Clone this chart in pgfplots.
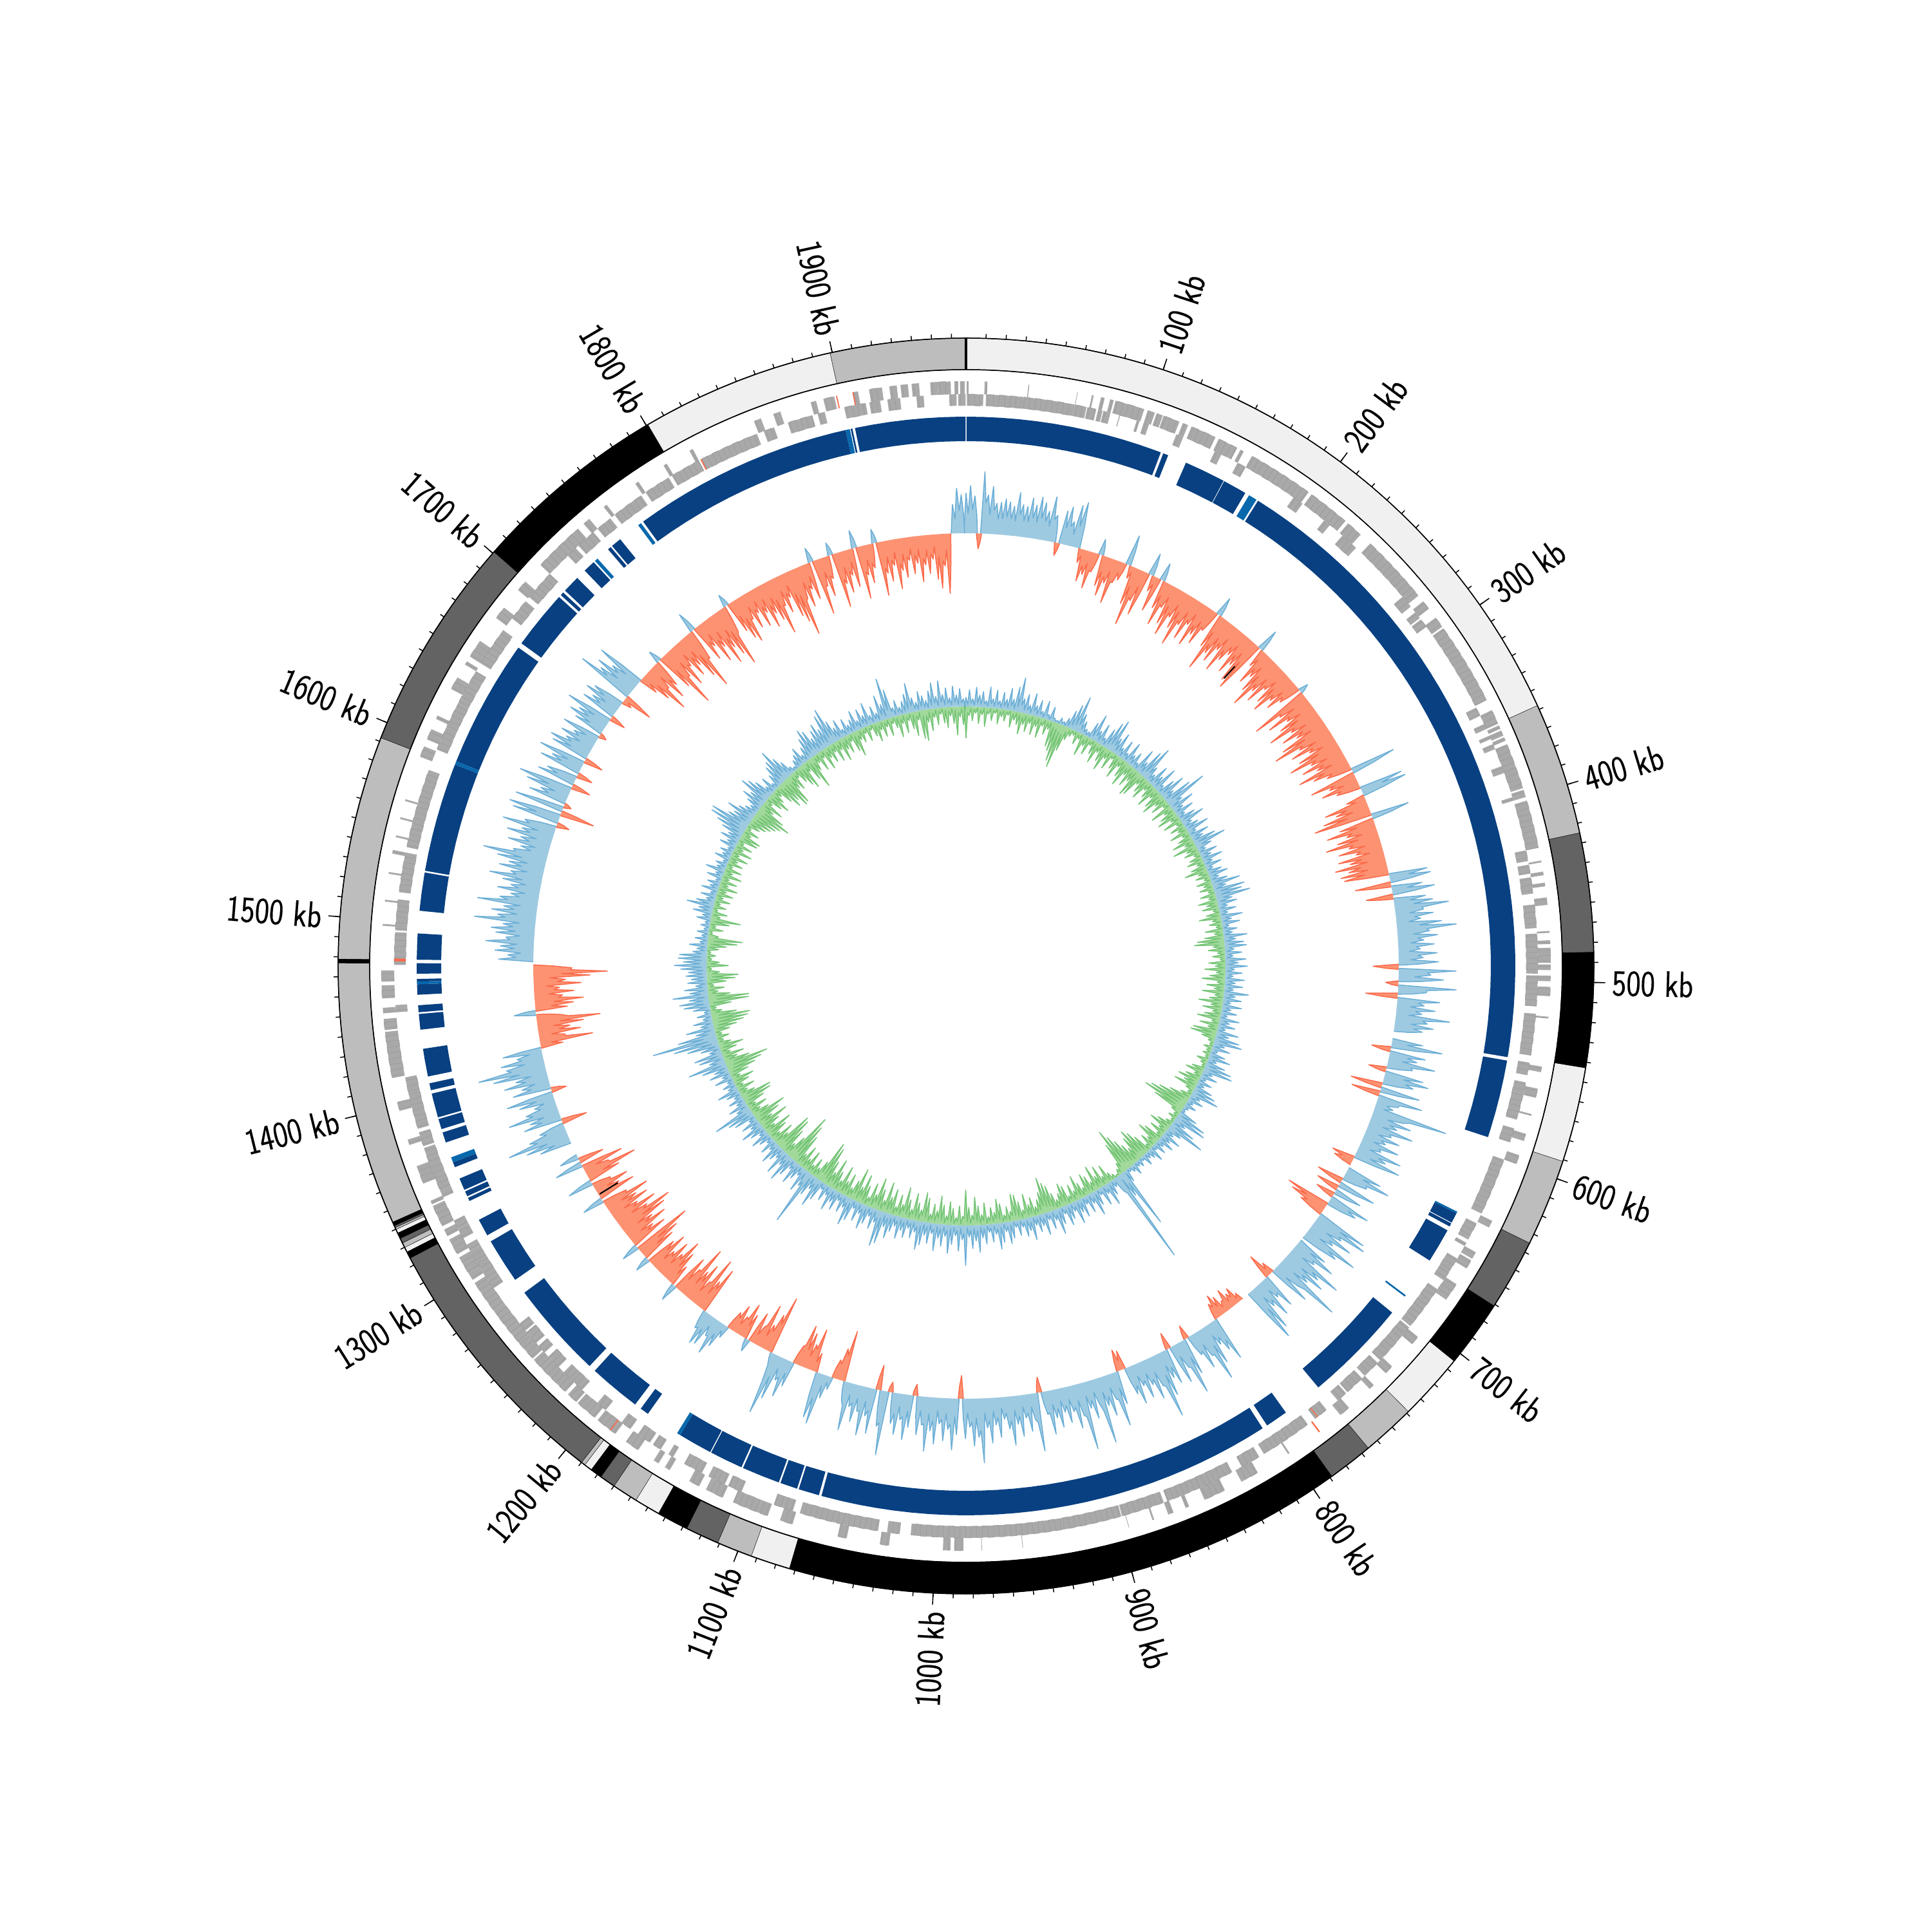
\documentclass[border=0pt]{standalone}
\usepackage{fontspec}
\setsansfont[FakeBold=0.35]{Latin Modern Sans}
\usepackage{graphicx}
\usepackage{pgfplots}
\pgfplotsset{compat=1.18}
\definecolor{ringL}{HTML}{F0F0F0}
\definecolor{ringM}{HTML}{BDBDBD}
\definecolor{ringD}{HTML}{636363}
\definecolor{ringB}{HTML}{084081}
\definecolor{ringC}{HTML}{0868AC}
\definecolor{geneG}{HTML}{A9A9A9}
\definecolor{geneD}{HTML}{9B9B9B}
\definecolor{geneR}{HTML}{FB6A4A}
\definecolor{posF}{HTML}{9ECAE1}
\definecolor{posD}{HTML}{6BAED6}
\definecolor{negF}{HTML}{FC9272}
\definecolor{negD}{HTML}{FB6A4A}
\definecolor{grnF}{HTML}{A1D99B}
\definecolor{grnD}{HTML}{74C476}
\def\kbdeg{0.183}
\def\sFix{\edef\sTmp{\noexpand\addplot[\sOpts,data cs=polar,forget plot] coordinates {\sF(\sAng,\sRb)(\sAng,\sRa)\sB};}\sTmp}
% arc segment: colour, inner r, outer r, start kb, end kb, extra options
\newcommand\seg[6]{%
  \def\sF{}\def\sB{}\def\sRa{#2}\def\sRb{#3}\def\sOpts{fill=#1,#6}%
  \pgfmathsetmacro\sCur{#4}%
  \loop\ifdim\sCur pt<#5pt
    \pgfmathsetmacro\sAng{90-\sCur*\kbdeg}%
    \edef\sF{\sF(\sAng,#3)}\edef\sB{(\sAng,#2)\sB}%
    \pgfmathsetmacro\sCur{\sCur+10}%
  \repeat
  \pgfmathsetmacro\sAng{90-#5*\kbdeg}%
  \sFix
}
% fine lines that part the genes of a block
\newcommand\comb[4]{% inner r, outer r, start kb, end kb
  \def\sF{}\def\cS{0}%
  \pgfmathsetmacro\sCur{#3+1.1}%
  \loop\ifdim\sCur pt<#4pt
    \pgfmathsetmacro\sAng{90-\sCur*\kbdeg}%
    \ifnum\cS=0 \edef\sF{\sF(\sAng,#1)(\sAng,#2)}\def\cS{1}\else\edef\sF{\sF(\sAng,#2)(\sAng,#1)}\def\cS{0}\fi
    \pgfmathsetmacro\sCur{\sCur+3.1}%
  \repeat
  \ifx\sF\empty\else
  \edef\sTmp{\noexpand\addplot[draw=geneD,line width=0.2pt,data cs=polar,forget plot] coordinates {\sF};}\sTmp
  \fi
}
\def\splitp#1/#2\end{\def\pa{#1}\def\pb{#2}}
\newcommand\seglist[4]{% colour, r1, r2, list
  \pgfplotsforeachungrouped \pp in {#4}{%
    \expandafter\splitp\pp\end
    \seg{#1}{#2}{#3}{\pa}{\pb}{draw=none}%
  }%
}
\newcommand\genelist[3]{% r1, r2, list
  \pgfplotsforeachungrouped \pp in {#3}{%
    \expandafter\splitp\pp\end
    \seg{geneG}{#1}{#2}{\pa}{\pb}{draw=none}%
    \comb{#1}{#2}{\pa}{\pb}%
  }%
}
% signed histogram
\def\runsign{0}\def\runpts{}\def\runback{}\def\backn{0}
\newcommand\flushrun{%
  \ifnum\runsign=0 \else
    \ifnum\runsign>0 \def\hhF{\posFill}\def\hhD{\posDraw}\else\def\hhF{\negFill}\def\hhD{\negDraw}\fi
    \pgfmathsetmacro\hhEnd{\lastang-\hstep*\kbdeg*0.75}%
    \edef\hhTmp{\noexpand\addplot[fill=\hhF,draw=none,data cs=polar,forget plot] coordinates {\runpts(\hhEnd,\hbase)\runback};%
      \noexpand\addplot[draw=\hhD,line width=0.42pt,line join=round,data cs=polar,forget plot] coordinates {\runpts(\hhEnd,\hbase)};}%
    \hhTmp
  \fi
  \def\runsign{0}\def\runpts{}\def\runback{}\def\backn{0}%
}
\newcommand\hist[3]{% start kb, step kb, values
  \def\hstep{#2}%
  \pgfmathsetmacro\hhCur{#1}%
  \pgfplotsforeachungrouped \hv in {#3}{%
    \ifdim\hv pt>0pt \def\hsg{1}\else\ifdim\hv pt<0pt \def\hsg{-1}\else\def\hsg{0}\fi\fi
    \ifnum\hsg=\runsign\relax\else\flushrun\fi
    \ifnum\hsg=0 \else
      \pgfmathsetmacro\hhAng{90-\hhCur*\kbdeg}%
      \pgfmathsetmacro\hhR{\hbase+\hv}%
      \pgfmathsetmacro\hhV{\hbase+\hv*\hvf}%
      \pgfmathsetmacro\hhB{\hhAng-\hstep*\kbdeg*0.5}%
      \ifnum\runsign=0
        \pgfmathsetmacro\hhPrev{\hhAng+\hstep*\kbdeg*0.5}%
        \edef\runpts{(\hhPrev,\hbase)}\edef\runback{(\hhPrev,\hbase)}%
        \edef\runsign{\hsg}%
      \fi
      \edef\runpts{\runpts(\hhAng,\hhR)(\hhB,\hhV)}%
      \ifnum\backn=0 \edef\runback{(\hhAng,\hbase)\runback}\def\backn{3}\else
        \ifnum\backn=3 \def\backn{2}\else\ifnum\backn=2 \def\backn{1}\else\def\backn{0}\fi\fi\fi
      \edef\lastang{\hhAng}%
    \fi
    \pgfmathsetmacro\hhCur{\hhCur+#2}%
  }%
}
\begin{document}
\begin{tikzpicture}
\useasboundingbox (-15,-15) rectangle (15,15);
\begin{axis}[at={(0,0)},anchor=center,width=30cm,height=30cm,scale only axis,
  xmin=-1500,xmax=1500,ymin=-1500,ymax=1500,hide axis,no marks,clip=false]
% ---- karyotype ring
\def\RS#1#2#3{\seg{#3}{926}{975}{#1}{#2}{draw=black,line width=0.35pt}}
\RS{0}{358}{ringL}\RS{358}{425}{ringM}\RS{425}{485}{ringD}\RS{485}{543}{black}
\RS{543}{591}{ringL}\RS{591}{635}{ringM}\RS{635}{671}{ringD}\RS{671}{705}{black}
\RS{705}{739}{ringL}\RS{739}{766}{ringM}\RS{766}{789}{ringD}\RS{789}{1073}{black}
\RS{1073}{1093}{ringL}\RS{1093}{1111}{ringM}\RS{1111}{1128}{ringD}\RS{1128}{1144}{black}
\RS{1144}{1157}{ringL}\RS{1157}{1170}{ringM}\RS{1170}{1178}{ringD}\RS{1178}{1184}{black}
\RS{1184}{1188}{ringL}\RS{1188}{1190}{ringM}\RS{1190}{1324}{ringD}\RS{1324}{1327.5}{black}
\RS{1327.5}{1330}{ringL}\RS{1330}{1332.5}{ringM}\RS{1332.5}{1335}{ringD}\RS{1335}{1338}{black}
\RS{1338}{1340}{ringL}\RS{1340}{1341}{ringM}\RS{1341}{1342}{ringD}\RS{1342}{1344}{black}
\RS{1344}{1477}{ringM}\RS{1477}{1479}{black}\RS{1479}{1592}{ringM}\RS{1592}{1701}{ringD}
\RS{1701}{1801}{black}\RS{1801}{1899}{ringL}\RS{1899}{1967}{ringM}
\addplot[black,line width=0.9pt,data cs=polar,forget plot] coordinates {(90,926)(90,975)};
% ---- genes, outer strand
\genelist{888}{908}{0.4/1.4,10/11.5,33.5/34,60/60.3,68/69,73/75,78/80,81/97,99/103,104/107.5,108/117,119/122,124/138,140/151,153/155,160/196,198/221,223/232,239/277,281/286,292/298,299/344,350/358,359/361,362/365,366/368,370/395,396/400,402/428,435/436,441/443,447/449,455/459,473/474,478/480,482/490,491/494,497/500,503/508,519/520,546/549,558/563,572/573,583/587,595/600,633/637,652/656,657/662,672/682,707/712,728/733,742/745,760/766,800/801,820/830,840/852,861/863,870/873,881/882,895/895.3,953/953.3,975/975.3,985/990,992/996,1025/1030,1048/1053,1078/1085,1092/1098,1098/1112,1118/1128,1132/1138,1150/1153,1157/1160,1170/1178,1185/1197,1199/1211,1212/1218,1220/1228,1226/1238,1238/1244,1245/1256,1256/1262,1262/1278,1278/1290,1290/1296,1298/1302,1302/1308,1308/1312,1314/1323,1325/1329,1331/1343,1344/1346,1356/1366,1378/1381,1397/1402,1415/1440,1441/1447,1450/1453,1458/1465,1467/1473,1497/1498,1510/1511,1525/1526,1536/1538,1545/1546,1555/1556,1565/1566,1590/1596,1600/1606,1612/1614,1630/1637,1645/1647,1650/1660,1675/1682,1694/1700,1712/1726,1725/1740,1744/1748,1758/1760,1779/1781,1797/1799,1813/1815,1851/1855,1862/1866,1883/1886,1890/1896,1906/1909,1915/1922,1926/1930,1932/1936,1938/1942,1948/1952,1952/1959,1961/1963,1964/1966.6}
% ---- genes, inner strand
\genelist{870}{888}{0.5/9.5,11/31,31/60,60/66.5,67/72,73/75.5,76/80,85/85.5,95/96.5,99/102,118/122,141/145,155/160,191/197,212/216,225/235,272/279,283/287,288/293,345/350,355/358,362/364,367/370,380/384,398/400,428/434,436/441,443/452,458/471,474/496,497/514,518/541,545/552,556/577,582/590,600/632,638/648,650/652,660/668,668/674,680/705,706/716,716/730,732/742,744/755,756/762,770/778,783/812,815/826,832/871,873/897,897.5/930,930/1014,1020/1027,1032/1076,1080/1086,1086/1091,1110/1118,1120/1130,1134/1145,1152/1155,1160/1165,1167/1175,1180/1186,1197/1203,1214/1222,1222/1228,1232/1240,1243/1248,1250/1258,1259/1264,1288/1294,1294/1305,1305/1312,1312/1316,1320/1326,1326/1331,1345/1349,1349/1366,1365/1374,1375/1383,1385/1405,1405/1414,1450/1454,1476/1494,1495/1512,1516/1538,1541/1585,1597/1610,1610/1625,1625/1645,1650/1672,1680/1692,1695/1712,1726/1732,1734/1745,1748/1757,1760/1778,1781/1796,1798/1815,1816/1850,1854/1860,1868/1882,1885/1889,1900/1912,1914/1920,1924/1931,1940/1944,1958/1962,1963/1967}
\seglist{geneR}{888}{908}{780/780.8,1188/1188.6,1897/1897.6,1906/1906.6}
\seglist{geneR}{870}{888}{1816/1816.6,1478/1479.5,776/776.5}
% ---- contig ring
\seglist{ringB}{815}{853}{0.3/113.5,115/118,129/152.8,153.2/167,175.5/544,546/591,638/644,644.5/646.5,649/669,705.6/765.6,789/802,805/1067,1068.5/1080.5,1081.5/1091.5,1092.5/1114.5,1115.5/1134.7,1135.3/1155,1177/1182,1186/1216,1220/1276,1285/1311,1315/1325,1337/1339,1340/1343,1344/1351,1358/1361,1373/1379,1381/1387,1388/1402,1404/1408,1412/1428,1439/1448,1449/1453,1459/1465,1466.5/1468,1471/1477,1479/1494,1507/1529,1530/1593,1595/1669,1672/1706,1707.5/1709.5,1711/1721,1727/1734,1745/1747,1748/1754,1770.5/1898,1901/1902,1903.5/1967}
\seglist{ringC}{815}{853}{169.5/174.4,637/638,693/694,1155/1157,1361/1364,1465/1466.5,1593/1595,1735/1737,1767/1769,1898/1900.5}
% ---- first histogram track
\def\hbase{672}\def\hvf{0.5}\def\posFill{posF}\def\posDraw{posD}\def\negFill{negF}\def\negDraw{negD}
\hist{0}{3}{62,74,58,-24,96,60,74,48,50,56,52,46,68,50,48,62,52,66,58,46,70,42,-20,52,60,38,66,72}
\hist{84}{3}{-22,-50,-38,-58,-30,25,-48,-62,-40,-70,-35,-28,48,-20,-60,-92,-50,-70,35,-25,-55,28}
\hist{150}{3}{-45,-70,-38,-62,-78,-45,-60,-85,-48,-68,-40,-72,-50,-62,-35,30,-55,-92,-60,-70,-45,-78,-55,-40,-68,-50,-75,-85,35,-30,-58,-42,-65,-88,-55,-70,-40,-60,-72,-45,-55,-35,15,-92,-50,-75,-45,-62,-85,-50,-70,-48,-78,-95,-55,-72,-44,-66,-85,-52,-70,-48,-82,-60,-40,72,-73,-45,-60,-38,68,72,-30,-68,-52,-75,-92,60,-55,-78,-48,-65,-85,-50,-68,-42,-72,-55,-80,-60,-74,-70}
\hist{426}{3}{60,64,-56,48,66,-42,50,60,84,44,58,38,70,92,50,62,40,56,34,60,38,62,-40,89,50,70,-20,90,44,-50,66,42,60,40,84,50,60,44,0,0,48,80,-30,56,44,74,40,-28,60,70,48,-50,62,-45,70,34,28,117}
\hist{600}{3}{50,64,44,72,40,56,36,60,34,70,48,74,-36,-30,0,56,74,40,-42,60,-36,44,-30,66,48,-70,-60,-40,82,88,50,72,44,90,60,0,50,70,40,92,60,74,50,110,44,66,-20,-40,56,34,62,40,76,90,0,0,-14,-28,-22,-34,-18,-30,-37,-26}
\hist{792}{3}{70,50,36,64,88,44,60,34,-22,58,87,40,62,-26,56,44,70,102,48,66,40,58,36,62,44,-30,-34,52,85,40,64,46,103,38,60,42,105,50,68,40,56,38,60,44,68,36,-24,91,40,58,36,64,44,76,50,34,62,42,70,46,100,60,74,44,62,-36,56,80,48,66,40,72,52,84,44,60,-18,50,70,40,64,48,-16,100,56,-39,70,44,76,40,58,36,75,30,-80}
\hist{1077}{3}{-50,-30,20,36,80,72,-30,-67,-40,-56,-66,-30,40,60,36,70,97,20,-92,-60,-40,-70,-30,-50,20,-40,-55,-30,-45,-30,20,40,57,30,50,53,30}
\hist{1188}{3}{-75,-50,-85,-40,-66,-50,-87,-45,-60,28,-34,-55,-72,-44,-60,-38,-64,-48,24,-56,-70,-93,28,-60,-42,-70,-50,-78,-91,-54,-72,-44,-66,-50,-74,-40,34,-60,-38,-56,-30,40,-52,-83,-40,-66,44,-40,30,0,0,0,0,0}
\hist{1345}{3}{50,70,97,60,40,-40,60,48,80,50,34,56,74,-24,60,44,70,50,84,106,60,67,40,61,-35}
\hist{1420}{3}{-83,-40,-66,-50,-72,-99,-40,34,-50,-60,-76,-44,-62,-40,-74,-50,-88,-115,-60,0}
\hist{1480}{3}{54,40,60,52,75,44,60,68,50,95,60,70,52,94,60,44,66,46,60,82,50,70,56,76,100,54,44,66,48,72,50,83,50,-20,74,82,-54,77,-12,60,44,70,85,-30,60,48,-25,66,50,74,-30,60,67,44,56,38,60,-12,48,62,50,74,-25,56,44,60,50,-15,-47,91,60,70,48,77}
\hist{1702}{3}{-30,-50,-77,-40,-64,-45,20,-60,-97,-50,-70,-40,-62,-48,-74,-97,-50,32,-60,-40,-72,-50,-84,-60,-76,-97,-44,20,-50,-66,-75,-40,-58,-36,-62,-42,-70,-50,-64,-89,-46,-60,-38,-72,-84,-107,-50,-66,-40,-58,23,-87,-44,-62,-36,20,-86,-50,-66,-40,-60,28,-82,-46,-60,-38,22,-84,-50,-64,-40,-78,-50,-62,-36,-58,-42,-72,-46,-60,-38,-70,-84,-50,-93}
\hist{1958}{3}{45,70,60}
\flushrun
\addplot[black,line width=0.6pt,data cs=polar,forget plot] coordinates {(48.1,600)(48.1,625)};
\addplot[black,line width=0.6pt,data cs=polar,forget plot] coordinates {(-148.1,637)(-148.1,670)};
% ---- second histogram track: green inward
\def\hbase{403}\def\hvf{0.2}\def\negFill{grnF}\def\negDraw{grnD}
\hist{0}{4}{-49,-14,-22,-10,-26,-12,-30,-10,-20,-8,-24,-12,-18,-8,-26,-14,-20,-34,-18,-28,-14,-30,-16,-32,-12,-24,-14,-40,-46,-60,-69,-40,-20,-12,-8,-20,-10,-34,-16,-28,-10,-22,-34,-14,-26,-38,-16,-30,-10,-24}
\hist{200}{4}{-36,-14,-28,-40,-18,-34,-22,-44,-40,-16,-26,-34,-14,-24,-36,-16,-30,-38,-18,-28,-10,-36,-16,-26,-34,-14,-30,-10,-24,-14,-30,-12,-22,-34,-16,-38,-18,-24,-10,-20,-26,-12,-24,-36,-16,-22,-10,-24,-14,-22}
\hist{400}{4}{-10,-24,-12,-30,-18,-26,-10,-22,-34,-14,-20,-10,-28,-14,-30,-42,-47,-18,-26,-12,-20,-8,-26,-16,-32,-14,-24,-36,-12,-28,-16,-34,-14,-22,-38,-18,-30,-14,-26,-36,-12,-30,-16,-38,-41,-22,-10,-6,-14,-8}
\hist{600}{4}{-12,-6,-18,-10,-6,-20,-28,-12,-24,-34,-22,-36,-14,-8,-18,-34,-50,-62,-70,-50,-16,-8,-14,-6,-12,-24,-34,-14,-26,-10,-30,-38,-16,-24,-10,-30,-42,-50,-40,-24,-34,-46,-58,-72,-50,-18,-10,-4,-8,-14}
\hist{800}{4}{-30,-14,-34,-20,-40,-16,-28,-34,-14,-24,-38,-16,-28,-12,-30,-36,-22,-14,-26,-40,-46,-56,-34,-24,-14,-30,-20,-38,-14,-28,-40,-42,-16,-24,-12,-30,-38,-18,-26,-12,-34,-16,-30,-44,-16,-28,-55,-14,-30,-12}
\hist{1000}{4}{-26,-36,-14,-30,-44,-20,-30,-14,-38,-46,-18,-28,-42,-16,-30,-48,-20,-34,-14,-40,-26,-48,-18,-34,-50,-22,-38,-14,-30,-46,-24,-52,-30,-16,-36,-22,-44,-18,-30,-48,-24,-40,-60,-67,-30,-16,-28,-14,-34,-18}
\hist{1200}{4}{-36,-20,-50,-66,-79,-36,-20,-42,-58,-62,-24,-36,-16,-32,-44,-18,-30,-48,-24,-40,-53,-28,-16,-30,-14,-32,-46,-49,-24,-14,-28,-12,-24,-34,-14,-30,-44,-56,-68,-40,-22,-34,-14,-26,-38,-20,-10,-20,-10,-24}
\hist{1400}{4}{-36,-48,-56,-60,-40,-18,-10,-34,-62,-63,-34,-16,-26,-10,-30,-44,-49,-20,-8,-34,-20,-8,-14,-6,-18,-30,-46,-54,-16,-6,-22,-10,-30,-47,-14,-24,-8,-20,-10,-24,-12,-26,-14,-30,-14,-26,-12,-30,-14,-26}
\hist{1600}{4}{-10,-24,-14,-28,-12,-30,-14,-26,-10,-30,-32,-14,-24,-8,-20,-28,-34,-40,-46,-58,-44,-22,-34,-12,-26,-36,-22,-14,-30,-44,-36,-50,-48,-24,-30,-12,-24,-34,-42,-16,-34,-51,-24,-14,-30,-12,-34,-18,-28,-14}
\hist{1800}{4}{-32,-16,-36,-20,-28,-12,-30,-40,-16,-22,-10,-24,-8,-20,-30,-14,-26,-12,-28,-10,-18,-34,-14,-30,-12,-26,-38,-14,-44,-48,-20,-34,-14,-26,-10,-24,-32,-14,-26,-44,-16,-28}
\flushrun
% ---- second histogram track: blue outward
\hist{0}{4}{14,26,12,30,18,24,10,32,14,28,12,26,16,34,18,38,54,22,30,14,34,16,26,10,28,8,22,6,4,10,6,14,28,40,56,30,20,10,8,26,42,18,32,12,30,44,52,24,36,14}
\hist{200}{4}{30,12,34,16,24,10,38,20,44,56,24,14,34,20,40,12,28,42,18,46,68,22,38,16,30,12,26,38,14,22,36,12,30,18,36,50,24,12,28,16,32,14,26,10,22,30,14,26,44,20}
\hist{400}{4}{48,42,54,24,30,14,26,12,34,16,28,10,22,14,36,18,30,34,14,26,12,32,20,34,14,26,12,30,16,28,14,38,18,28,12,30,14,24,10,30,16,26,12,34,20,38,44,18,28,10}
\hist{600}{4}{24,34,14,30,42,46,16,26,10,22,12,28,36,44,16,24,10,18,8,6,30,48,52,20,40,60,24,14,30,16,26,12,20,8,24,14,10,18,6,12,8,18,10,6,20,96,40,150,24,12}
\hist{800}{4}{22,36,14,30,10,24,38,16,28,12,30,20,36,14,24,32,12,26,40,16,28,12,34,18,26,14,36,20,28,12,24,10,26,34,14,30,40,16,28,12,30,20,42,24,36,18,62,22,40,16}
\hist{1000}{4}{30,44,18,34,22,42,16,32,20,36,44,18,28,14,30,20,34,16,26,38,22,50,56,20,32,14,28,38,16,30,12,34,44,18,28,12,30,20,36,14,26,10,32,46,20,34,88,26,38,14}
\hist{1200}{4}{24,36,14,30,44,20,40,16,24,34,14,26,10,20,30,12,24,36,16,28,12,34,42,62,20,30,14,24,12,22,34,14,20,10,28,14,32,22,40,60,24,38,44,18,30,50,70,102,60,30}
\hist{1400}{4}{44,20,30,14,22,10,26,40,46,30,55,28,36,18,30,24,32,28,40,50,36,44,42,22,16,28,12,20,10,18,8,14,8,22,14,30,22,42,28,14,24,10,26,14,20,8,24,12,30,14}
\hist{1600}{4}{18,8,24,14,20,10,26,16,30,20,34,46,60,62,36,30,44,28,20,14,24,36,26,48,40,30,14,26,10,22,34,40,54,36,24,10,6,14,20,28,12,22,34,46,40,24,34,42,30,50}
\hist{1800}{4}{58,34,20,30,12,26,14,20,32,14,30,18,36,14,26,14,40,24,64,44,14,24,12,20,30,46,22,14,30,22,14,28,40,18,42,20,30,14,32,18,28,12}
\flushrun
\end{axis}
% ---- scale: circle lines, ticks and labels
\draw[black,line width=0.42pt] (0,0) circle (9.75cm);
\draw[black,line width=0.42pt] (0,0) circle (9.26cm);
\foreach \k in {10,20,...,1960}{\pgfmathsetmacro\a{90-\k*\kbdeg}\draw[black,line width=0.42pt] (\a:9.75cm)--(\a:9.82cm);}
\foreach \k in {100,200,...,900}{\pgfmathsetmacro\a{90-\k*\kbdeg}
  \draw[black,line width=0.45pt] (\a:9.75cm)--(\a:9.93cm);
  \node[anchor=west,rotate=\a,inner sep=0pt,text=black] at (\a:10.03cm) {\sffamily\fontsize{16.2}{18}\selectfont\scalebox{0.83}[1]{\k\ kb}};}
\foreach \k in {1000,1100,...,1900}{\pgfmathsetmacro\a{90-\k*\kbdeg}\pgfmathsetmacro\b{\a+180}
  \draw[black,line width=0.45pt] (\a:9.75cm)--(\a:9.93cm);
  \node[anchor=east,rotate=\b,inner sep=0pt,text=black] at (\a:10.03cm) {\sffamily\fontsize{16.2}{18}\selectfont\scalebox{0.83}[1]{\k\ kb}};}
\end{tikzpicture}
\end{document}
